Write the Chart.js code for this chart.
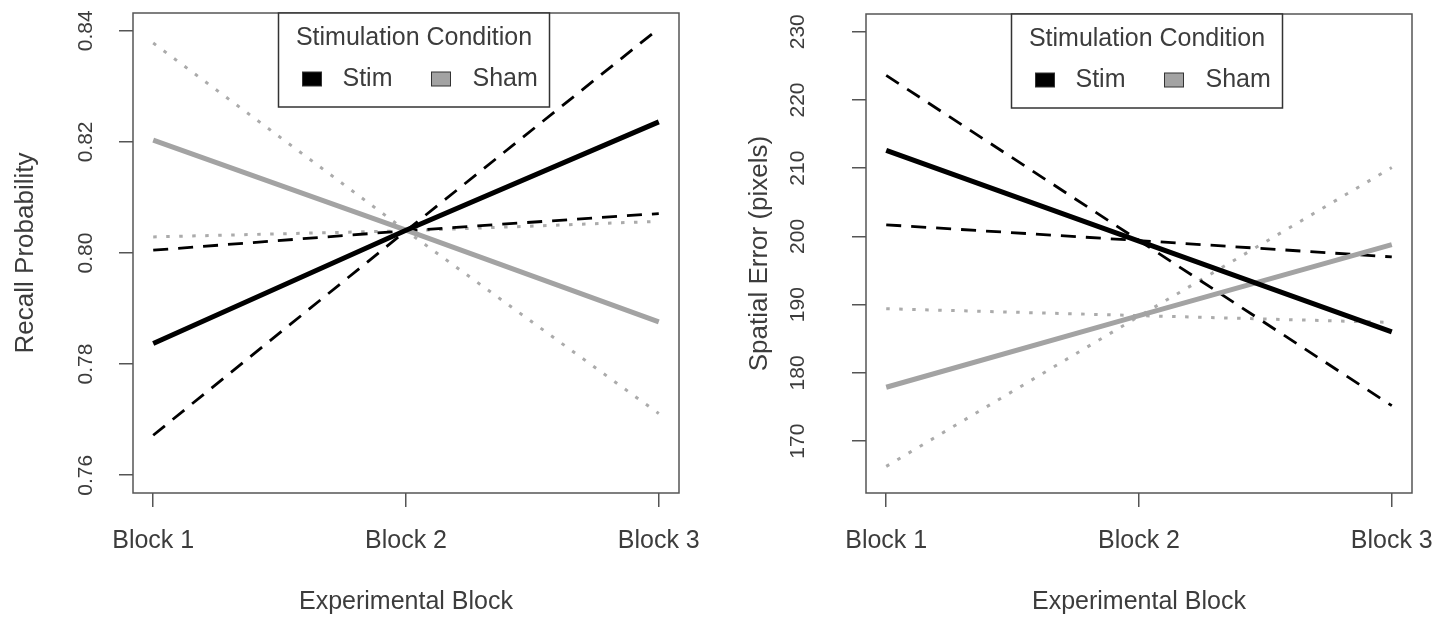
<!DOCTYPE html>
<html>
<head>
<meta charset="utf-8">
<script src="https://cdn.jsdelivr.net/npm/chart.js"></script>
<style>
  html, body { margin: 0; padding: 0; background: #fff; }
  #wrap { position: relative; width: 1436px; height: 620px; }
  .panel { position: absolute; top: 0; width: 718px; height: 620px; }
</style>
</head>
<body>
<div id="wrap">
  <div class="panel" style="left:0"><canvas id="recallChart" width="718" height="620"></canvas></div>
  <div class="panel" style="left:718px"><canvas id="errorChart" width="718" height="620"></canvas></div>
</div>
<script>
// ---- data ----
const blocks = ['Block 1', 'Block 2', 'Block 3'];
const conditions = ['Stim', 'Sham'];
const legendTitle = 'Stimulation Condition';

// left panel: recall probability
const recallTicks = [0.76, 0.78, 0.80, 0.82, 0.84];
const recallStim = [0.7837, 0.8041, 0.8236];
const recallStimSteep = [0.7672, 0.8040, 0.8404];
const recallStimFlat = [0.8005, 0.8040, 0.8071];
const recallSham = [0.8203, 0.8041, 0.7876];
const recallShamSteep = [0.8378, 0.8040, 0.7711];
const recallShamFlat = [0.8029, 0.8040, 0.8057];

// right panel: spatial error
const errorTicks = [170, 180, 190, 200, 210, 220, 230];
const errorStim = [212.6, 199.3, 186.0];
const errorStimSteep = [223.6, 199.4, 175.2];
const errorStimFlat = [201.7, 199.4, 197.0];
const errorSham = [177.9, 188.4, 198.8];
const errorShamSteep = [166.3, 188.3, 210.1];
const errorShamFlat = [189.4, 188.4, 187.4];

// ---- style ----
const FONT = '"Liberation Sans", Arial, sans-serif';
const TEXT = '#3c3c3c';
const FRAME = '#555555';
const STIM = '#000000';
const SHAM = '#a3a3a3';
const SHAM_DOT = '#ababab';

function series(values) {
    return values.map((v, i) => ({ x: i + 1, y: v }));
}

function lineSet(label, values, color, width, dash) {
    return {
        label: label,
        data: series(values),
        borderColor: color,
        backgroundColor: color,
        borderWidth: width,
        borderDash: dash || [],
        pointRadius: 0,
        pointHoverRadius: 0,
        fill: false,
        tension: 0
    };
}

// frame, rotated y tick labels and the boxed legend (base R look)
const panelDecor = {
    id: 'panelDecor',
    afterDraw(chart, args, o) {
        const { ctx, chartArea: a } = chart;
        const y = chart.scales.y;
        ctx.save();

        ctx.strokeStyle = FRAME;
        ctx.lineWidth = 1.5;
        ctx.strokeRect(a.left, a.top, a.right - a.left, a.bottom - a.top);

        ctx.fillStyle = TEXT;
        ctx.textAlign = 'center';
        ctx.textBaseline = 'middle';
        ctx.font = o.tickSize + 'px ' + FONT;
        y.ticks.forEach(t => {
            ctx.save();
            ctx.translate(o.tickX, y.getPixelForValue(t.value));
            ctx.rotate(-Math.PI / 2);
            ctx.fillText(o.format(t.value), 0, 0);
            ctx.restore();
        });

        // legend
        const w = 271, h = 94;
        const L = (a.left + a.right) / 2 + 8 - w / 2;
        const T = a.top;
        ctx.fillStyle = '#fff';
        ctx.fillRect(L, T, w, h);
        ctx.strokeStyle = '#333';
        ctx.lineWidth = 1.5;
        ctx.strokeRect(L, T, w, h);

        ctx.fillStyle = TEXT;
        ctx.font = '25px ' + FONT;
        ctx.fillText(legendTitle, L + w / 2, T + 25);

        const fills = [STIM, SHAM];
        const boxX = [24, 153];
        const textX = [64, 194];
        const rowY = T + 66;
        conditions.forEach((c, i) => {
            ctx.fillStyle = fills[i];
            ctx.fillRect(L + boxX[i], rowY - 7, 19, 14);
            ctx.strokeStyle = '#333';
            ctx.lineWidth = 1;
            ctx.strokeRect(L + boxX[i], rowY - 7, 19, 14);
            ctx.fillStyle = TEXT;
            ctx.textAlign = 'left';
            ctx.fillText(c, L + textX[i], rowY);
        });

        ctx.restore();
    }
};

function makePanel(id, p) {
    const ctx = document.getElementById(id).getContext('2d');
    return new Chart(ctx, {
        type: 'line',
        data: {
            datasets: [
                lineSet('Stim', p.stim, STIM, 5),
                lineSet('Sham', p.sham, SHAM, 5),
                lineSet('Stim bound 1', p.stimSteep, STIM, 2.8, [15, 10]),
                lineSet('Stim bound 2', p.stimFlat, STIM, 2.8, [15, 10]),
                lineSet('Sham bound 1', p.shamSteep, SHAM_DOT, 3, [3.5, 9.5]),
                lineSet('Sham bound 2', p.shamFlat, SHAM_DOT, 3, [3.5, 9.5])
            ]
        },
        options: {
            responsive: false,
            animation: false,
            devicePixelRatio: 1,
            layout: { autoPadding: false, padding: { top: p.top, right: p.right, left: 0, bottom: 0 } },
            plugins: {
                legend: { display: false },
                tooltip: { enabled: false },
                panelDecor: { tickX: p.tickX, tickSize: 21, format: p.format }
            },
            scales: {
                x: {
                    type: 'linear',
                    min: 0.92,
                    max: 3.08,
                    afterBuildTicks: s => { s.ticks = blocks.map((b, i) => ({ value: i + 1 })); },
                    afterFit: s => { s.height = 127; s.paddingLeft = 0; s.paddingRight = 0; },
                    border: { display: false },
                    grid: { drawOnChartArea: false, drawTicks: true, tickLength: 14, color: FRAME, lineWidth: 1.5 },
                    ticks: {
                        color: TEXT, font: { family: FONT, size: 25 }, padding: 19,
                        maxRotation: 0, autoSkip: false,
                        callback: (v, i) => blocks[i]
                    },
                    title: {
                        display: true, text: 'Experimental Block', color: TEXT,
                        font: { family: FONT, size: 25 }, padding: { top: 0, bottom: 3 }
                    }
                },
                y: {
                    min: p.min,
                    max: p.max,
                    afterBuildTicks: s => { s.ticks = p.ticks.map(v => ({ value: v })); },
                    afterFit: s => { s.width = p.left; },
                    border: { display: false },
                    grid: { drawOnChartArea: false, drawTicks: true, tickLength: 14, color: FRAME, lineWidth: 1.5 },
                    ticks: { display: false },
                    title: {
                        display: true, text: p.yTitle, color: TEXT,
                        font: { family: FONT, size: 26 }, padding: { top: p.titlePad, bottom: 0 }
                    }
                }
            }
        },
        plugins: [panelDecor]
    });
}

makePanel('recallChart', {
    stim: recallStim, sham: recallSham,
    stimSteep: recallStimSteep, stimFlat: recallStimFlat,
    shamSteep: recallShamSteep, shamFlat: recallShamFlat,
    ticks: recallTicks, min: 0.7568, max: 0.8432,
    format: v => v.toFixed(2),
    yTitle: 'Recall Probability',
    left: 133, top: 13, right: 39,
    tickX: 86, titlePad: 10
});

makePanel('errorChart', {
    stim: errorStim, sham: errorSham,
    stimSteep: errorStimSteep, stimFlat: errorStimFlat,
    shamSteep: errorShamSteep, shamFlat: errorShamFlat,
    ticks: errorTicks, min: 162.4, max: 232.6,
    format: v => String(v),
    yTitle: 'Spatial Error (pixels)',
    left: 148, top: 14, right: 24,
    tickX: 80, titlePad: 26
});
</script>
</body>
</html>
